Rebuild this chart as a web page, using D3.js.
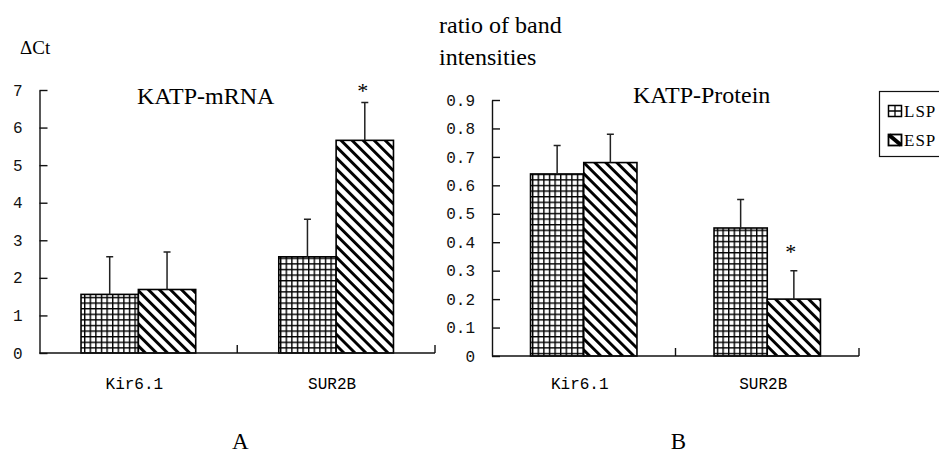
<!DOCTYPE html>
<html>
<head>
<meta charset="utf-8">
<script src="https://cdn.jsdelivr.net/npm/d3@7"></script>
<style>
  body { margin: 0; background: #fff; }
  svg { display: block; }
</style>
</head>
<body>
<svg id="viz" width="939" height="456"></svg>
<script>
// values
const categories = ["Kir6.1", "SUR2B"];
const groups = ["LSP", "ESP"];

const mrnaLSP = [1.56, 2.56];
const mrnaESP = [1.69, 5.66];
const mrnaLSPErr = [1.0, 1.0];
const mrnaESPErr = [1.0, 1.01];
const mrnaStar = [false, true];   // on the ESP bar
const mrnaTicks = [0, 1, 2, 3, 4, 5, 6, 7];
const mrnaTickLabels = ["0", "1", "2", "3", "4", "5", "6", "7"];

const protLSP = [0.64, 0.45];
const protESP = [0.68, 0.20];
const protLSPErr = [0.10, 0.10];
const protESPErr = [0.10, 0.10];
const protStar = [false, true];
const protTicks = [0, 0.1, 0.2, 0.3, 0.4, 0.5, 0.6, 0.7, 0.8, 0.9];
const protTickLabels = ["0", "0.1", "0.2", "0.3", "0.4", "0.5", "0.6", "0.7", "0.8", "0.9"];

const svg = d3.select("#viz");
const MONO = "'Liberation Mono', monospace";
const SERIF = "'Liberation Serif', 'Times New Roman', serif";

// fill patterns
const defs = svg.append("defs");
const grid = defs.append("pattern").attr("id", "grid")
    .attr("patternUnits", "userSpaceOnUse").attr("width", 5.6).attr("height", 5.6);
grid.append("rect").attr("width", 5.6).attr("height", 5.6).attr("fill", "#fff");
grid.append("path").attr("d", "M0,0.7H5.6M0.7,0V5.6")
    .attr("stroke", "#000").attr("stroke-width", 1.4);

const diag = defs.append("pattern").attr("id", "diag")
    .attr("patternUnits", "userSpaceOnUse").attr("width", 7.8).attr("height", 7.8)
    .attr("patternTransform", "rotate(-45)");
diag.append("rect").attr("width", 7.8).attr("height", 7.8).attr("fill", "#fff");
diag.append("rect").attr("width", 2.9).attr("height", 7.8).attr("fill", "#000");


function drawPanel(p) {
    const x = d3.scaleBand().domain(categories).range([p.x0, p.x1])
        .paddingInner(0.42).paddingOuter(0.21);
    const xs = d3.scaleBand().domain(groups).range([0, x.bandwidth()]);
    const y = d3.scaleLinear().domain([0, p.ymax]).range([p.yb, p.yt]);

    const rows = [];
    categories.forEach((c, i) => {
        rows.push({cat: c, grp: "LSP", v: p.lsp[i], e: p.lspErr[i], star: false});
        rows.push({cat: c, grp: "ESP", v: p.esp[i], e: p.espErr[i], star: p.star[i]});
    });

    const g = svg.append("g");

    g.selectAll(".bar").data(rows).enter()
        .append("rect")
        .attr("class", "bar")
        .attr("x", d => x(d.cat) + xs(d.grp))
        .attr("y", d => y(d.v))
        .attr("width", xs.bandwidth())
        .attr("height", d => y(0) - y(d.v))
        .attr("fill", d => d.grp === "LSP" ? "url(#grid)" : "url(#diag)")
        .attr("stroke", "#000")
        .attr("stroke-width", 1.6);

    // error bars (upper half only)
    const cx = d => x(d.cat) + xs(d.grp) + xs.bandwidth() / 2;
    g.selectAll(".err").data(rows).enter()
        .append("path")
        .attr("class", "err")
        .attr("d", d => `M${cx(d)},${y(d.v)}V${y(d.v + d.e)}M${cx(d) - 3.5},${y(d.v + d.e)}H${cx(d) + 3.5}`)
        .attr("stroke", "#222")
        .attr("stroke-width", 1.5)
        .attr("fill", "none");

    g.selectAll(".star").data(rows.filter(d => d.star)).enter()
        .append("text")
        .attr("class", "star")
        .attr("x", d => cx(d) + p.starDx)
        .attr("y", d => y(d.v + d.e) - p.starDy)
        .attr("text-anchor", "middle")
        .style("font-family", SERIF)
        .style("font-size", "22px")
        .text("*");

    // y axis, ticks point inwards
    const yAxis = d3.axisLeft(y)
        .tickValues(p.ticks)
        .tickFormat((d, i) => p.tickLabels[i])
        .tickSizeInner(-8)
        .tickSizeOuter(0)
        .tickPadding(17);
    const ya = g.append("g").attr("transform", `translate(${p.x0},0)`).call(yAxis);
    ya.selectAll("path, line").attr("stroke", "#111").attr("stroke-width", 1.4);
    ya.selectAll("text")
        .style("font-family", MONO)
        .style("font-size", "16px")
        .attr("fill", "#111");

    // x axis with separators between the groups
    g.append("line")
        .attr("x1", p.x0).attr("x2", p.x1)
        .attr("y1", y(0)).attr("y2", y(0))
        .attr("stroke", "#111").attr("stroke-width", 1.4);
    categories.forEach(c => {
        const bx = x(c) + x.bandwidth() + x.step() * 0.21;
        g.append("line")
            .attr("x1", bx).attr("x2", bx)
            .attr("y1", y(0)).attr("y2", y(0) - 8)
            .attr("stroke", "#111").attr("stroke-width", 1.4);
    });

    g.selectAll(".cat").data(categories).enter()
        .append("text")
        .attr("class", "cat")
        .attr("x", d => x(d) + x.bandwidth() / 2 - 4)
        .attr("y", p.catY)
        .attr("text-anchor", "middle")
        .style("font-family", MONO)
        .style("font-size", "16px")
        .text(d => d);

    g.append("text")
        .attr("x", p.titleX).attr("y", p.titleY)
        .style("font-family", SERIF).style("font-size", "24px")
        .text(p.title);

    g.append("text")
        .attr("x", (p.x0 + p.x1) / 2 + 3).attr("y", 449)
        .attr("text-anchor", "middle")
        .style("font-family", SERIF).style("font-size", "23px")
        .text(p.letter);
}

drawPanel({
    x0: 39.5, x1: 435, yb: 353, yt: 90, ymax: 7,
    lsp: mrnaLSP, esp: mrnaESP, lspErr: mrnaLSPErr, espErr: mrnaESPErr, star: mrnaStar,
    ticks: mrnaTicks, tickLabels: mrnaTickLabels,
    starDx: -2, starDy: 4, catY: 389,
    title: "KATP-mRNA", titleX: 137, titleY: 104, letter: "A"
});

drawPanel({
    x0: 492, x1: 859, yb: 356, yt: 100, ymax: 0.9,
    lsp: protLSP, esp: protESP, lspErr: protLSPErr, espErr: protESPErr, star: protStar,
    ticks: protTicks, tickLabels: protTickLabels,
    starDx: -3, starDy: 12, catY: 389,
    title: "KATP-Protein", titleX: 633, titleY: 103, letter: "B"
});

// axis titles
svg.append("text").attr("x", 20).attr("y", 54)
    .style("font-family", SERIF).style("font-size", "19px")
    .text("\u0394Ct");
svg.append("text").attr("x", 439).attr("y", 33)
    .style("font-family", SERIF).style("font-size", "24px")
    .text("ratio of band");
svg.append("text").attr("x", 439).attr("y", 65)
    .style("font-family", SERIF).style("font-size", "24px")
    .text("intensities");

// legend, runs off the right edge like the original
const lg = svg.append("g");
lg.append("rect").attr("x", 879.5).attr("y", 91.5).attr("width", 80).attr("height", 65)
    .attr("fill", "#fff").attr("stroke", "#111").attr("stroke-width", 1.2);
groups.forEach((grp, i) => {
    const ly = 105 + i * 29;
    if (grp === "LSP") {
        lg.append("rect").attr("x", 888.5).attr("y", ly + 0.5).attr("width", 13).attr("height", 11)
            .attr("fill", "#fff").attr("stroke", "#000").attr("stroke-width", 1.5);
        lg.append("path").attr("d", `M895,${ly}V${ly + 12}M888,${ly + 6}H902`)
            .attr("stroke", "#000").attr("stroke-width", 1.3);
    } else {
        lg.append("rect").attr("x", 888.5).attr("y", ly + 0.5).attr("width", 13).attr("height", 11)
            .attr("fill", "#fff").attr("stroke", "#000").attr("stroke-width", 1.8);
        lg.append("path").attr("d", `M889,${ly + 1}L901,${ly + 11}`)
            .attr("stroke", "#000").attr("stroke-width", 4);
    }
    lg.append("text").attr("x", 904).attr("y", ly + 12)
        .style("font-family", SERIF).style("font-size", "17px")
        .style("letter-spacing", "1px")
        .text(grp);
});
</script>
</body>
</html>
